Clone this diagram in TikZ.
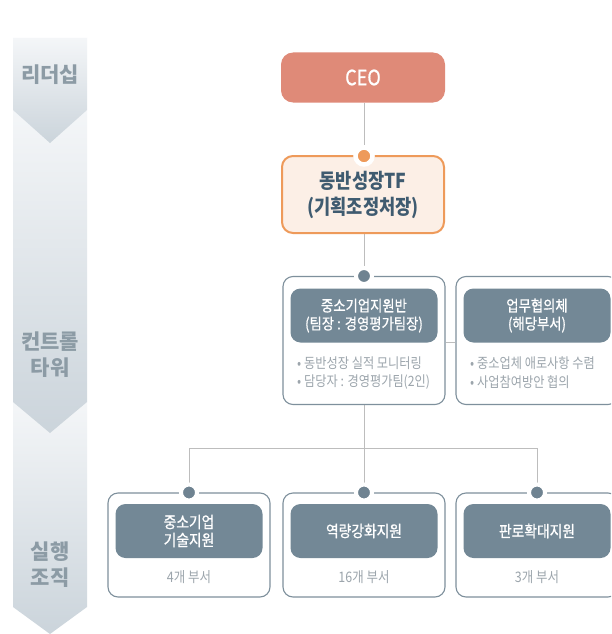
\documentclass[tikz,border=0pt]{standalone}
\usepackage{fontspec}
\newfontfamily\kr[FakeStretch=0.86]{Noto Sans CJK KR}
\newfontfamily\krm[FakeStretch=0.86, FakeBold=0.8]{Noto Sans CJK KR}
\newfontfamily\krw{Noto Sans CJK KR}
\usetikzlibrary{backgrounds}
\definecolor{ceofill}{HTML}{DF8A78}
\definecolor{orange}{HTML}{EE9A5A}
\definecolor{tffill}{HTML}{FCEFE6}
\definecolor{tftext}{HTML}{3F5B70}
\definecolor{innerfill}{HTML}{738896}
\definecolor{boxline}{HTML}{7E909C}
\definecolor{dotgray}{HTML}{6F8391}
\definecolor{linegray}{HTML}{BDBDBD}
\definecolor{bullet}{HTML}{9CA5AC}
\definecolor{coltop}{HTML}{F4F6F8}
\definecolor{colmid}{HTML}{E8ECEF}
\definecolor{colbot}{HTML}{CBD4DB}
\definecolor{coltext}{HTML}{8C9BA5}
\tikzset{
  ceobox/.style={fill=ceofill, rounded corners=12pt, minimum width=164pt, minimum height=50pt, inner sep=0pt, text=white, font=\krm\fontsize{21}{24}\selectfont},
  tfbox/.style={fill=tffill, draw=orange, line width=2pt, rounded corners=11pt, minimum width=162pt, minimum height=77pt, inner sep=0pt, align=center, text=tftext, font=\kr\bfseries\fontsize{20.5}{26}\selectfont},
  outerbox/.style={fill=white, draw=boxline, line width=1.1pt, rounded corners=10pt, minimum width=162pt, inner sep=0pt},
  innerbox/.style={fill=innerfill, rounded corners=10pt, minimum width=147pt, minimum height=54pt, inner sep=0pt, align=center, text=white},
  toptitle/.style={font=\krm\fontsize{15.5}{18}\selectfont},
  bottitle/.style={font=\krm\fontsize{16}{18}\selectfont},
  bulletline/.style={anchor=west, inner sep=0pt, text=bullet, font=\kr\fontsize{14.2}{16}\selectfont},
  sublabel/.style={inner sep=0pt, text=bullet, font=\kr\fontsize{14.5}{16}\selectfont},
  collabel/.style={inner sep=0pt, align=center, text=coltext, font=\krw\bfseries\fontsize{21}{26}\selectfont},
  grayring/.style={circle, fill=dotgray, draw=white, line width=4pt, minimum size=16pt, inner sep=0pt},
  orangering/.style={circle, fill=orange, draw=white, line width=4.5pt, minimum size=17pt, inner sep=0pt},
  conn/.style={draw=linegray, line width=1pt}
}
\begin{document}
\begin{tikzpicture}[x=1pt, y=-1pt]
\useasboundingbox (0,0) rectangle (611,634);
\clip (0,0) rectangle (611,634);

% left column
\shade[top color=coltop, middle color=colmid, bottom color=colbot] (13,402) -- (87,402) -- (87,607) -- (50,634) -- (13,607) -- cycle;
\shade[top color=coltop, middle color=colmid, bottom color=colbot] (13,110) -- (87,110) -- (87,402) -- (50,433) -- (13,402) -- cycle;
\shade[top color=coltop, bottom color=colbot] (13,38) -- (87,38) -- (87,110) -- (50,143) -- (13,110) -- cycle;
\node[collabel] (lead) at (50,75) {리더십};
\node[collabel] (ctrl) at (50,355) {컨트롤\\타워};
\node[collabel] (exec) at (50,565) {실행\\조직};

% top
\node[ceobox] (ceo) at (363,77.5) {CEO};
\node[tfbox] (tf) at (363,194.5) {동반성장TF\\(기획조정처장)};
\node[orangering] (tfdot) at (364,156) {};

% control tower boxes
\node[outerbox, minimum height=128pt] (o1) at (364,340.5) {};
\node[innerbox, toptitle] (i1) at (364,315.5) {중소기업지원반\\(팀장 : 경영평가팀장)};
\node[bulletline] (b1a) at (297,363) {• 동반성장 실적 모니터링};
\node[bulletline] (b1b) at (297,382) {• 담당자 : 경영평가팀(2인)};
\node[grayring] (d1) at (364,276) {};

\node[outerbox, minimum height=128pt] (o2) at (537,340.5) {};
\node[innerbox, toptitle] (i2) at (537,315.5) {업무협의체\\(해당부서)};
\node[bulletline] (b2a) at (470,363) {• 중소업체 애로사항 수렴};
\node[bulletline] (b2b) at (470,382) {• 사업참여방안 협의};

% execution boxes
\node[outerbox, minimum height=104pt] (oA) at (189,545) {};
\node[innerbox, bottitle] (iA) at (189,531) {중소기업\\기술지원};
\node[sublabel] (sA) at (189,577) {4개 부서};
\node[grayring] (dA) at (189,492.5) {};

\node[outerbox, minimum height=104pt] (oB) at (364,545) {};
\node[innerbox, bottitle] (iB) at (364,531) {역량강화지원};
\node[sublabel] (sB) at (364,577) {16개 부서};
\node[grayring] (dB) at (364,492.5) {};

\node[outerbox, minimum height=104pt] (oC) at (537,545) {};
\node[innerbox, bottitle] (iC) at (537,531) {판로확대지원};
\node[sublabel] (sC) at (537,577) {3개 부서};
\node[grayring] (dC) at (537,492.5) {};

\coordinate (j) at (364,448);

\begin{pgfonlayer}{background}
\fill[white] (0,0) rectangle (611,634);
\draw[conn] (ceo.south -| tfdot) -- (tfdot);
\draw[conn] (tf.south -| d1) -- (d1);
\draw[conn] (o1.east |- i1.south) -- (o2.west |- i1.south);
\draw[conn] (o1.south) -- (dB);
\draw[conn] (dA) -- (dA |- j) -- (dC |- j) -- (dC);
\end{pgfonlayer}
\end{tikzpicture}
\end{document}
